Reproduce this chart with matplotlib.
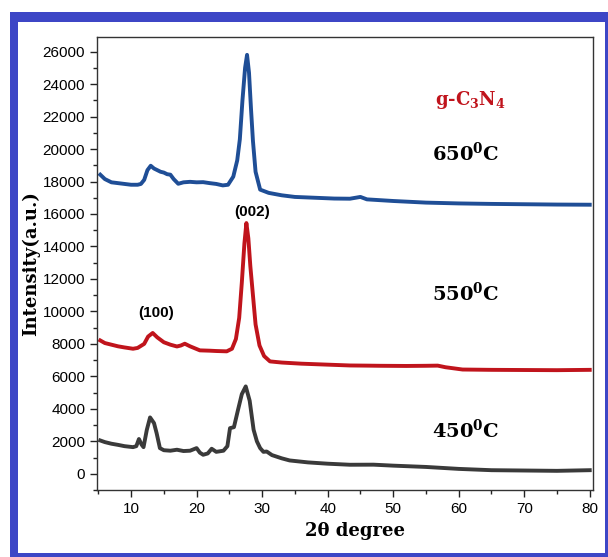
import matplotlib
matplotlib.use("Agg")
import matplotlib.pyplot as plt
from matplotlib.patches import Rectangle
from matplotlib.ticker import MultipleLocator

# XRD patterns of g-C3N4 (2theta in degrees, intensity in a.u.)
x_650 = [5.3, 6, 7, 8, 9, 10, 11, 11.5, 12, 12.5, 13.0, 13.5, 14, 14.5, 15, 15.5, 16, 16.5, 17.2,
         18, 19, 20, 21, 22, 23, 24, 24.8, 25.6, 26.2, 26.6, 27.0, 27.4, 27.7, 28.0, 28.3, 28.6,
         29.0, 29.7, 31, 33, 35, 38, 41, 43.4, 45, 46, 48, 50, 55, 60, 65, 70, 75, 80]
y_650 = [18420, 18150, 17950, 17900, 17850, 17800, 17800, 17850, 18100, 18700, 18970, 18800, 18700,
         18600, 18550, 18450, 18420, 18150, 17860, 17950, 17980, 17950, 17960, 17900, 17850, 17760,
         17800, 18300, 19300, 20600, 23000, 25000, 25800, 24700, 22500, 20500, 18600, 17500, 17300,
         17150, 17050, 17000, 16950, 16940, 17050, 16900, 16850, 16800, 16700, 16650, 16620, 16600,
         16580, 16570]

x_550 = [5.3, 6, 7, 8, 9, 10.3, 11, 12, 12.6, 13.3, 14, 15, 16, 17.0, 17.6, 18.2, 19, 20.5, 22, 23,
         24.6, 25.4, 26.0, 26.5, 26.9, 27.3, 27.6, 27.9, 28.2, 28.6, 29.0, 29.6, 30.3, 31.2, 33, 36,
         40, 43.4, 46, 48, 52, 55, 56.8, 58, 60.6, 65, 70, 75, 80]
y_550 = [8210, 8050, 7950, 7850, 7780, 7700, 7750, 8000, 8450, 8670, 8400, 8100, 7950, 7840, 7900,
         8010, 7850, 7600, 7580, 7560, 7540, 7700, 8300, 9600, 11760, 14200, 15440, 14500, 12800,
         11000, 9200, 7900, 7250, 6920, 6850, 6780, 6720, 6670, 6660, 6650, 6640, 6650, 6660, 6560,
         6420, 6400, 6390, 6380, 6400]

x_450 = [5.3, 6, 7, 8, 9, 10.3, 10.8, 11.2, 11.6, 11.9, 12.4, 12.9, 13.5, 13.9, 14.4, 15, 16,
         17.0, 18, 19, 20.0, 20.5, 21.0, 21.7, 22.3, 23, 24.1, 24.7, 25.1, 25.7, 26.3, 26.9, 27.5,
         28.1, 28.7, 29.2, 29.7, 30.2, 30.7, 31.5, 33, 34.2, 37, 40, 43.4, 47, 50, 55, 60, 65, 70,
         75, 80]
y_450 = [2050, 1950, 1850, 1780, 1700, 1640, 1700, 2140, 1800, 1640, 2700, 3470, 3120, 2500, 1580,
         1450, 1420, 1480, 1400, 1420, 1580, 1300, 1170, 1250, 1540, 1350, 1420, 1700, 2810, 2870,
         3900, 4900, 5380, 4500, 2710, 2000, 1580, 1350, 1370, 1150, 950, 820, 700, 620, 555, 560,
         500, 420, 300, 220, 200, 180, 220]

peak_labels = ["(100)", "(002)"]
temp_labels = ["650$^{\\mathregular{0}}$C", "550$^{\\mathregular{0}}$C", "450$^{\\mathregular{0}}$C"]

plt.rcParams["mathtext.fontset"] = "dejavuserif"
fig = plt.figure(figsize=(6.08, 5.57), dpi=100)

# blue frame around the whole figure
fig.patches.append(Rectangle((10 / 608, 0), 598 / 608, 545 / 557, transform=fig.transFigure,
                             facecolor="#3d46c6", edgecolor="none", zorder=-10))
fig.patches.append(Rectangle((18 / 608, 4 / 557), 587 / 608, 531 / 557, transform=fig.transFigure,
                             facecolor="white", edgecolor="none", zorder=-9))

ax = fig.add_axes([97 / 608, 1 - 490 / 557, 496 / 608, 453 / 557])
ax.set_facecolor("none")

ax.plot(x_650, y_650, color="#1f4e96", lw=2.8, solid_joinstyle="round")
ax.plot(x_550, y_550, color="#c0141c", lw=2.8, solid_joinstyle="round")
ax.plot(x_450, y_450, color="#3a3a3a", lw=2.8, solid_joinstyle="round")

ax.set_xlim(4.8, 80.5)
ax.set_ylim(-1000, 26900)
ax.xaxis.set_major_locator(MultipleLocator(10))
ax.xaxis.set_minor_locator(MultipleLocator(5))
ax.yaxis.set_major_locator(MultipleLocator(2000))
ax.yaxis.set_minor_locator(MultipleLocator(1000))
ax.tick_params(which="both", direction="out", top=False, right=False, color="#222222")
ax.tick_params(which="major", length=5, width=1.0, labelsize=11)
ax.tick_params(which="minor", length=3, width=1.0)
for lab in ax.get_xticklabels() + ax.get_yticklabels():
    lab.set_family("Liberation Sans")
for sp in ax.spines.values():
    sp.set_color("#333333")
    sp.set_linewidth(1.0)

ax.set_xlabel("2\u03b8 degree", family="DejaVu Serif", fontweight="bold", fontsize=13, labelpad=2)
ax.xaxis.set_label_coords(0.52, -0.07)
ax.set_ylabel("Intensity(a.u.)", family="DejaVu Serif", fontweight="bold", fontsize=13, labelpad=2)

ax.text(56.4, 23040, "g-C$_{\\mathregular{3}}$N$_{\\mathregular{4}}$", color="#c0141c",
        family="DejaVu Serif", fontweight="bold", fontsize=13, va="center")
for ty, txt in zip([19770, 11150, 2710], temp_labels):
    ax.text(55.9, ty, txt, family="DejaVu Serif", fontweight="bold", fontsize=14, va="center")

ax.text(13.8, 9920, peak_labels[0], family="Liberation Sans", fontweight="bold", fontsize=11,
        ha="center", va="center")
ax.text(28.5, 16140, peak_labels[1], family="Liberation Sans", fontweight="bold", fontsize=11,
        ha="center", va="center")

fig.savefig("out.png", dpi=100)
